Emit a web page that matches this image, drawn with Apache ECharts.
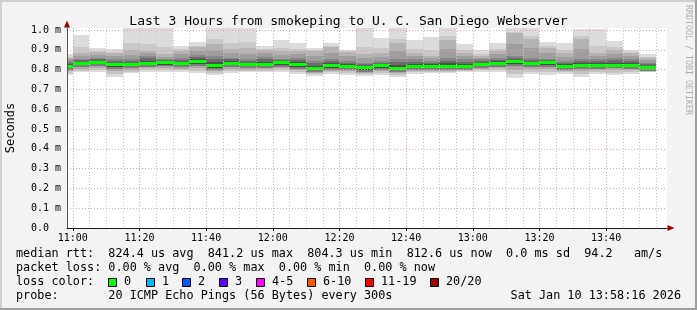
<!DOCTYPE html>
<html><head><meta charset="utf-8">
<script src="https://cdn.jsdelivr.net/npm/echarts@6/dist/echarts.min.js"></script>
<style>html,body{margin:0;padding:0;background:#f3f3f3}#c{width:697px;height:310px}</style>
</head><body><div id="c"></div><script>
// ---- data (RTT in milliseconds) ----
const binStarts = ['10:55','11:00','11:05','11:10','11:15','11:20','11:25','11:30','11:35','11:40','11:45','11:50',
  '11:55','12:00','12:05','12:10','12:15','12:20','12:25','12:30','12:35','12:40','12:45','12:50',
  '12:55','13:00','13:05','13:10','13:15','13:20','13:25','13:30','13:35','13:40','13:45','13:50'];
const pingMax = [0.877,0.976,0.908,0.904,1.008,1.008,1.008,0.919,0.939,1.008,1.008,1.008,
  0.919,0.948,0.935,0.909,0.933,0.898,1.008,0.960,1.008,0.949,0.965,1.008,
  0.930,0.898,0.935,1.008,1.008,0.940,0.932,1.007,1.007,0.945,0.898,0.879];
const pingUpper = [0.860,0.885,0.890,0.885,0.900,0.894,0.877,0.894,0.912,0.930,0.903,0.910,
  0.899,0.894,0.894,0.894,0.915,0.890,0.877,0.885,0.935,0.885,0.868,0.950,
  0.885,0.868,0.894,0.985,0.953,0.911,0.885,0.953,0.885,0.899,0.885,0.860];
const pingMidHigh = [0.845,0.855,0.860,0.852,0.852,0.870,0.852,0.860,0.875,0.869,0.860,0.852,
  0.865,0.852,0.860,0.843,0.852,0.843,0.835,0.843,0.852,0.852,0.845,0.860,
  0.852,0.852,0.860,0.869,0.860,0.852,0.843,0.852,0.852,0.860,0.852,0.835];
const medianRtt = [0.817,0.832,0.836,0.826,0.826,0.833,0.834,0.830,0.841,0.820,0.833,0.826,
  0.828,0.834,0.825,0.806,0.821,0.817,0.808,0.819,0.805,0.818,0.816,0.817,
  0.816,0.826,0.832,0.840,0.830,0.834,0.817,0.822,0.822,0.822,0.822,0.811];
const pingLow = [0.800,0.812,0.818,0.805,0.806,0.815,0.817,0.812,0.820,0.800,0.814,0.806,
  0.810,0.815,0.805,0.790,0.800,0.800,0.790,0.800,0.790,0.800,0.800,0.800,
  0.800,0.810,0.815,0.820,0.812,0.815,0.800,0.805,0.805,0.808,0.805,0.795];
const pingMin = [0.775,0.786,0.786,0.763,0.781,0.787,0.787,0.787,0.781,0.772,0.781,0.786,
  0.786,0.788,0.779,0.770,0.779,0.775,0.770,0.772,0.762,0.779,0.782,0.781,
  0.786,0.788,0.788,0.756,0.779,0.772,0.780,0.762,0.779,0.772,0.779,0.786];
const binMinutes = 5;
const rangeStart = '10:58:16', rangeEnd = '13:58:16';
const timeLabels = ['11:00','11:20','11:40','12:00','12:20','12:40','13:00','13:20','13:40'];
const yTickValues = [0,0.1,0.2,0.3,0.4,0.5,0.6,0.7,0.8,0.9,1.0];
const yTickLabels = ['0.0  ','0.1 m','0.2 m','0.3 m','0.4 m','0.5 m','0.6 m','0.7 m','0.8 m','0.9 m','1.0 m'];
const yMax = 1.01, yStep = 0.1;

const lossLabels = ['0','1','2','3','4-5','6-10','11-19','20/20'];
const lossColors = ['#00ff00','#00b8ff','#0059ff','#5e00ff','#ff00ff','#ff5500','#ff0000','#a10000'];
const legendLines = [
  'median rtt:  824.4 us avg  841.2 us max  804.3 us min  812.6 us now  0.0 ms sd  94.2   am/s',
  'packet loss: 0.00 % avg  0.00 % max  0.00 % min  0.00 % now',
  'loss color:',
  'probe:       20 ICMP Echo Pings (56 Bytes) every 300s'
];
const stampText = 'Sat Jan 10 13:58:16 2026';
const titleText = 'Last 3 Hours from smokeping to U. C. San Diego Webserver';

// ---- helpers ----
function toMin(s){const p=s.split(':').map(Number);return p[0]*60+p[1]+(p[2]||0)/60;}
function fmtMin(v){const h=Math.floor(v/60+1e-9), m=Math.round(v-h*60);return String(h).padStart(2,'0')+':'+String(m).padStart(2,'0');}
function yLabel(v){const n=Number(v);let best=0;for(let i=1;i<yTickValues.length;i++){if(Math.abs(yTickValues[i]-n)<Math.abs(yTickValues[best]-n))best=i;}return Math.abs(yTickValues[best]-n)<0.005?yTickLabels[best]:'';}
const tStart = toMin(rangeStart), tEnd = toMin(rangeEnd);
const labelMins = timeLabels.map(toMin);
const gridMins = binStarts.map(toMin).concat([toMin(binStarts[binStarts.length-1])+binMinutes]).filter(t=>t>tStart&&t<tEnd);
const seriesData = binStarts.map((s,i)=>[toMin(s), pingMin[i], pingLow[i], medianRtt[i], pingMidHigh[i], pingUpper[i], pingMax[i]]);

const FONT = '"DejaVu Sans Mono", monospace';
const PINK = '#f2a0a0', GRAY = '#c6c6c6';

function renderItem(params, api){
  const cs = params.coordSys;
  const t0 = api.value(0);
  let xa = api.coord([t0,0])[0], xb = api.coord([t0+binMinutes,0])[0];
  xa = Math.round(Math.max(xa, cs.x)); xb = Math.round(Math.min(xb, cs.x+cs.width));
  const w = xb - xa;
  if (w <= 0) return null;
  const Y = v => api.coord([t0, v])[1];
  const vMin=api.value(1), vLo=api.value(2), vMed=api.value(3), vHi1=api.value(4), vHi2=api.value(5), vMax=api.value(6);
  const out = [];
  function band(a, b, cuts, colors){
    let prev = 0;
    for (let k=0;k<colors.length;k++){
      const f0 = prev, f1 = cuts[k]; prev = f1;
      const ya = Math.round(Y(a+(b-a)*f0)), yb = Math.round(Y(a+(b-a)*f1));
      if (ya - yb <= 0) continue;
      out.push({type:'rect', shape:{x:xa, y:yb, width:w, height:ya-yb}, style:{fill:colors[k]}});
    }
  }
  band(vMin, vLo, [0.34,0.67,1], ['#dcdcdc','#c4c4c4','#a9a9a9']);
  band(vLo, vMed, [0.5,1], ['#7c7c7c','#474747']);
  band(vMed, vHi1, [0.34,0.67,1], ['#4f4f4f','#6b6b6b','#878787']);
  band(vHi1, vHi2, [0.5,1], ['#9e9e9e','#b3b3b3']);
  band(vHi2, vMax, [0.3,1], ['#c9c9c9','#dcdcdc']);
  const ym = Math.round(Y(vMed) - 1.5);
  out.push({type:'rect', shape:{x:xa, y:ym, width:w, height:3}, style:{fill:lossColors[0]}});
  return {type:'group', children: out};
}

// ---- graphic texts ----
const graphics = [
  {type:'rect', shape:{x:0,y:0,width:697,height:2}, style:{fill:'#cfcfcf'}, silent:true},
  {type:'rect', shape:{x:0,y:0,width:2,height:310}, style:{fill:'#cfcfcf'}, silent:true},
  {type:'rect', shape:{x:0,y:308,width:697,height:2}, style:{fill:'#9e9e9e'}, silent:true},
  {type:'rect', shape:{x:695,y:0,width:2,height:310}, style:{fill:'#9e9e9e'}, silent:true},
  {type:'text', x:688, y:60, rotation:-Math.PI/2, style:{text:'RRDTOOL / TOBI OETIKER', font:'8.3px '+FONT, fill:'#adadad', textAlign:'center', textVerticalAlign:'middle'}},
];
const LFONT = '11.8px ' + FONT;
const rowY = [254, 268, 282, 296];
legendLines.forEach((t,i)=>graphics.push({type:'text', x:16, y:rowY[i], style:{text:t, font:LFONT, fill:'#000', textVerticalAlign:'middle'}}));
const swX = [108,146,182,219,256,307,365,430];
lossLabels.forEach((t,i)=>{
  graphics.push({type:'rect', shape:{x:swX[i]+0.5, y:278.5, width:8, height:8}, style:{fill:lossColors[i], stroke:'#000', lineWidth:1}});
  graphics.push({type:'text', x:swX[i]+16, y:282, style:{text:t, font:LFONT, fill:'#000', textVerticalAlign:'middle'}});
});
graphics.push({type:'text', x:681, y:296, style:{text:stampText, font:LFONT, fill:'#000', textAlign:'right', textVerticalAlign:'middle'}});

const chart = echarts.init(document.getElementById('c'), null, {renderer:'canvas'});
chart.setOption({
  animation:false,
  backgroundColor:'#f3f3f3',
  title:{text:titleText, left:'center', top:10, textStyle:{fontFamily:FONT, fontSize:13, fontWeight:'normal', color:'#000'}},
  grid:{left:67, right:30, top:28, bottom:82, show:true, backgroundColor:'#ffffff', borderWidth:0,
        containLabel:false, outerBoundsMode:'none'},
  xAxis:[
    {type:'value', min:tStart, max:tEnd, z:10,
     axisLine:{show:true, onZero:false, lineStyle:{color:'#1a1a1a', width:1}},
     axisTick:{show:true, length:3, customValues:labelMins, lineStyle:{color:'#1a1a1a'}},
     axisLabel:{customValues:labelMins, formatter:v=>fmtMin(v), fontFamily:FONT, fontSize:10, color:'#000', margin:5},
     splitLine:{show:true, lineStyle:{color:PINK, type:[1,2], width:1}}},
    {type:'value', min:tStart, max:tEnd, position:'bottom', z:9,
     axisLine:{show:true, onZero:false, symbol:['none','triangle'], symbolSize:[6,7], symbolOffset:[0,4], lineStyle:{color:'#a00000', width:0}},
     axisTick:{show:false, customValues:gridMins},
     axisLabel:{show:false},
     splitLine:{show:true, lineStyle:{color:GRAY, type:[1,2], width:1}}}
  ],
  yAxis:[
    {type:'value', min:0, max:yMax, interval:yStep, z:10,
     name:'Seconds', nameLocation:'middle', nameRotate:90, nameGap:50,
     nameTextStyle:{fontFamily:FONT, fontSize:12, color:'#000'},
     axisLine:{show:true, onZero:false, lineStyle:{color:'#555'}},
     axisTick:{show:false},
     axisLabel:{customValues:yTickValues, fontFamily:FONT, fontSize:10, color:'#000', margin:6,
       formatter:(v)=>yLabel(v)},
     splitLine:{show:true, showMaxLine:false, lineStyle:{color:PINK, type:[1,2], width:1}}},
    {type:'value', min:0, max:yMax, position:'left', z:9,
     axisLine:{show:true, onZero:false, symbol:['none','triangle'], symbolSize:[6,7], symbolOffset:[0,4], lineStyle:{color:'#a00000', width:0}},
     axisTick:{show:false}, axisLabel:{show:false}, splitLine:{show:false}}
  ],
  series:[{type:'custom', xAxisIndex:0, yAxisIndex:0, clip:false, renderItem, data:seriesData,
    encode:{x:0, y:[1,6]}}],
  graphic: graphics
});
</script></body></html>
